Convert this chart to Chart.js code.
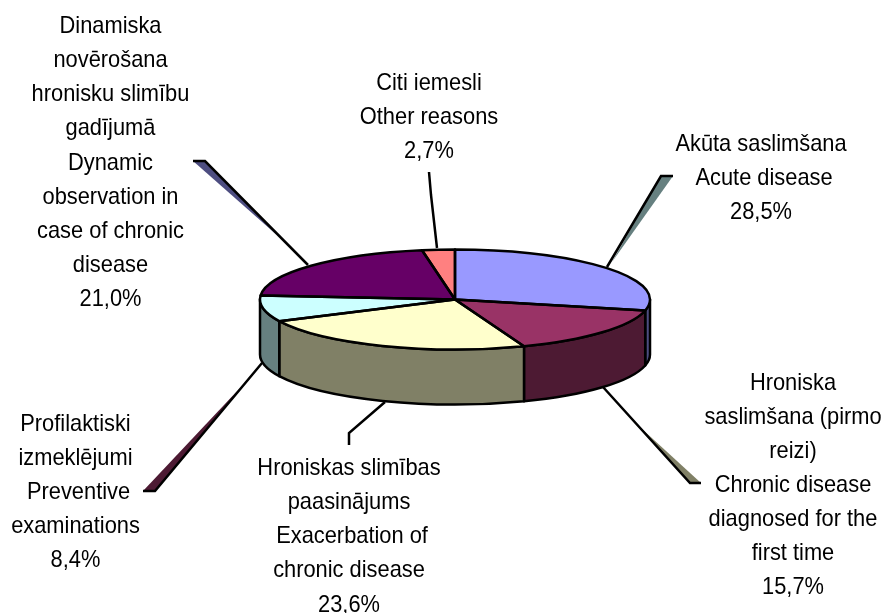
<!DOCTYPE html>
<html lang="en">
<head>
  <meta charset="UTF-8">
  <title>Pie chart</title>
  <script src="https://cdn.jsdelivr.net/npm/chart.js"></script>
  <style>
    html, body { margin: 0; padding: 0; background: #fff; }
    #wrap { width: 883px; height: 613px; }
  </style>
</head>
<body>
  <div id="wrap"><canvas id="chart" width="883" height="613"></canvas></div>

  <script>
    // Data
    const categories = [
      'Akūta saslimšana / Acute disease',
      'Hroniska saslimšana (pirmo reizi) / Chronic disease diagnosed for the first time',
      'Hroniskas slimības paasinājums / Exacerbation of chronic disease',
      'Profilaktiski izmeklējumi / Preventive examinations',
      'Dinamiska novērošana hronisku slimību gadījumā / Dynamic observation in case of chronic disease',
      'Citi iemesli / Other reasons'
    ];
    const shares = [28.5, 15.7, 23.6, 8.4, 21.0, 2.7];
    const topColors = ['#9999FF', '#993366', '#FFFFCC', '#CCFFFF', '#660066', '#FF8080'];
    const sideColors = ['#4D4D80', '#4D1A33', '#808066', '#668080', '#330033', '#804040'];

    // Label text, one array per slice
    const labelLines = [
      ['Akūta saslimšana', ' Acute disease', '28,5%'],
      ['Hroniska', 'saslimšana (pirmo', 'reizi)', 'Chronic disease', 'diagnosed for the', 'first time', '15,7%'],
      ['Hroniskas slimības', 'paasinājums', ' Exacerbation of', 'chronic disease', '23,6%'],
      ['Profilaktiski', 'izmeklējumi', ' Preventive', 'examinations', '8,4%'],
      ['Dinamiska', 'novērošana', 'hronisku slimību', 'gadījumā', 'Dynamic', 'observation in', 'case of chronic', 'disease', '21,0%'],
      ['Citi iemesli', 'Other reasons', '2,7%']
    ];

    // 3D look and label layout
    const RADIUS = 195, FLAT = 50 / 195, DEPTH = 55, PEN = 2.5;
    const FONT_PX = 24, LINE_H = 34.1, TEXT_SQUEEZE = 0.91;
    const labelPos = [[761, 144], [793, 383], [349, 468.5], [75.5, 424], [110.5, 26.5], [429, 83.5]];
    const leaders = [
      { pts: [[607, 267], [661, 176], [673, 176]], wedge: [[661, 176], [673, 176], [612, 262]], color: sideColors[3] },
      { pts: [[603, 387], [690, 483], [701, 483]], wedge: [[701, 483], [690, 483], [630, 418]], color: sideColors[2] },
      { pts: [[385, 402], [349, 433], [349, 445]] },
      { pts: [[262, 363], [155, 491], [143, 491]], wedge: [[143, 491], [155, 491], [240, 388]], color: sideColors[1] },
      { pts: [[308, 265], [205, 161], [193, 161]], wedge: [[193, 161], [205, 161], [278, 236]], color: sideColors[0] },
      { pts: [[437, 248], [431, 195], [429, 172]] }
    ];

    function slicePath(ctx, a, yOff) {
      ctx.beginPath();
      ctx.moveTo(a.x, a.y + yOff);
      ctx.arc(a.x, a.y + yOff, a.outerRadius, a.startAngle, a.endAngle);
      ctx.closePath();
    }

    function squeeze(ctx, a) {
      ctx.translate(a.x, a.y);
      ctx.scale(1, FLAT);
      ctx.translate(-a.x, -a.y);
    }

    // Draws the wall of one slice, only the part on the front half of the pie
    function drawWall(ctx, a, color) {
      const from = Math.max(a.startAngle, 0), to = Math.min(a.endAngle, Math.PI);
      if (to <= from) return;
      const rx = a.outerRadius, ry = a.outerRadius * FLAT;
      ctx.beginPath();
      ctx.ellipse(a.x, a.y, rx, ry, 0, from, to);
      ctx.ellipse(a.x, a.y + DEPTH, rx, ry, 0, to, from, true);
      ctx.closePath();
      ctx.fillStyle = color;
      ctx.fill();
      ctx.strokeStyle = '#000';
      ctx.lineWidth = PEN;
      ctx.lineJoin = 'round';
      ctx.stroke();
    }

    const pie3d = {
      id: 'pie3d',
      beforeDatasetsDraw(chart) {
        const ctx = chart.ctx, arcs = chart.getDatasetMeta(0).data;
        ctx.save();
        // leader lines sit behind the pie
        leaders.forEach(l => {
          if (l.wedge) {
            ctx.beginPath();
            l.wedge.forEach((p, i) => i ? ctx.lineTo(p[0], p[1]) : ctx.moveTo(p[0], p[1]));
            ctx.closePath();
            ctx.fillStyle = l.color;
            ctx.fill();
          }
          ctx.beginPath();
          l.pts.forEach((p, i) => i ? ctx.lineTo(p[0], p[1]) : ctx.moveTo(p[0], p[1]));
          ctx.strokeStyle = '#000';
          ctx.lineWidth = PEN;
          ctx.stroke();
        });
        arcs.forEach((a, i) => drawWall(ctx, a, sideColors[i]));
        ctx.restore();
        ctx.save();
        squeeze(ctx, arcs[0]);
      },
      afterDatasetsDraw(chart) {
        const ctx = chart.ctx, arcs = chart.getDatasetMeta(0).data;
        ctx.restore();
        // outlines: path built flattened, stroked with an even pen
        arcs.forEach(a => {
          ctx.save();
          squeeze(ctx, a);
          slicePath(ctx, a, 0);
          ctx.restore();
          ctx.strokeStyle = '#000';
          ctx.lineWidth = PEN;
          ctx.lineJoin = 'round';
          ctx.stroke();
        });
        // labels
        ctx.save();
        ctx.fillStyle = '#000';
        ctx.textAlign = 'center';
        ctx.textBaseline = 'middle';
        ctx.font = FONT_PX + 'px "Liberation Sans", Arial, sans-serif';
        labelLines.forEach((lines, i) => {
          lines.forEach((txt, j) => {
            ctx.save();
            ctx.translate(labelPos[i][0], labelPos[i][1] + j * LINE_H);
            ctx.scale(TEXT_SQUEEZE, 1);
            ctx.fillText(txt, 0, 0);
            ctx.restore();
          });
        });
        ctx.restore();
      }
    };

    new Chart(document.getElementById('chart').getContext('2d'), {
      type: 'pie',
      data: {
        labels: categories,
        datasets: [{
          data: shares,
          backgroundColor: topColors,
          borderWidth: 0,
          radius: RADIUS
        }]
      },
      options: {
        responsive: false,
        animation: false,
        layout: { padding: { left: 27, right: 0, top: 0, bottom: 14 } },
        plugins: { legend: { display: false }, tooltip: { enabled: false } }
      },
      plugins: [pie3d]
    });
  </script>
</body>
</html>
